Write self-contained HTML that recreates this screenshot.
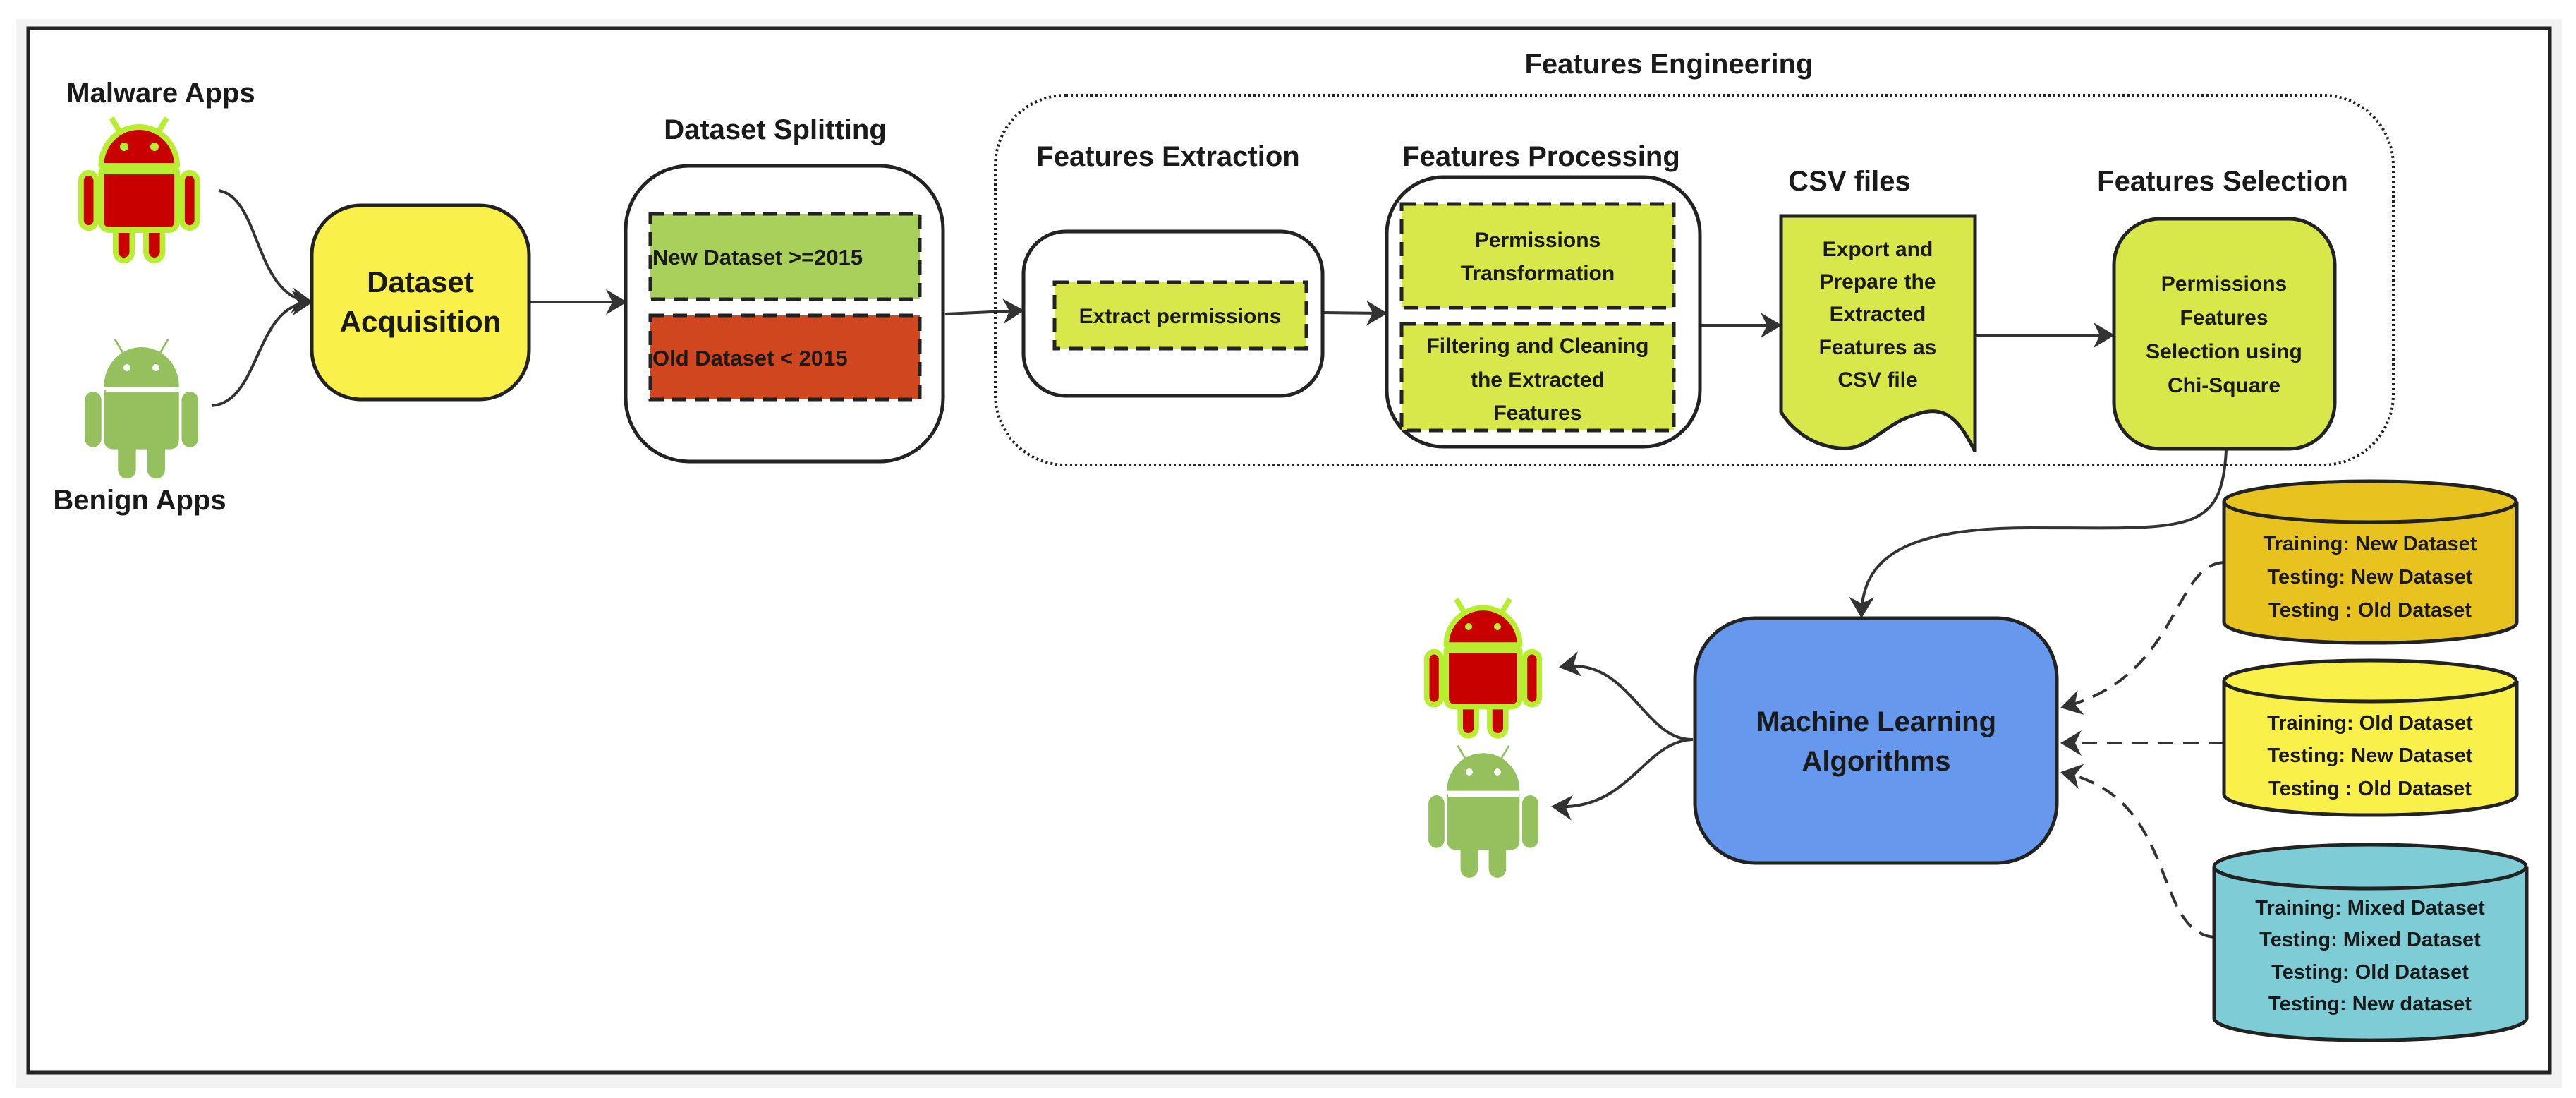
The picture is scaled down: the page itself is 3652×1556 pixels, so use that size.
<!DOCTYPE html>
<html><head><meta charset="utf-8"><style>
html,body{margin:0;padding:0;background:#fff;}
svg{display:block;}
text{font-family:"Liberation Sans",sans-serif;font-weight:bold;fill:#1a1a1a;text-anchor:middle;}
</style></head><body>
<svg width="3652" height="1556" viewBox="0 0 3652 1556" xmlns="http://www.w3.org/2000/svg">
<defs>
<marker id="ah" viewBox="0 0 30 36" refX="26" refY="18" markerWidth="30" markerHeight="36" markerUnits="userSpaceOnUse" orient="auto" overflow="visible">
<path d="M0,0 L30,18 L0,36 L9,18 Z" fill="#333"/>
</marker>
<g id="droid">
<line x1="62" y1="24" x2="50" y2="4"/><line x1="118" y1="24" x2="130" y2="4"/>
<rect x="56" y="140" width="24" height="66" rx="12"/>
<rect x="100" y="140" width="24" height="66" rx="12"/>
<path d="M35,72 A55,55 0 0 1 145,72 Z"/>
<path d="M35,80 H145 V150 Q145,163 132,163 H48 Q35,163 35,150 Z"/>
<rect x="6" y="82" width="22" height="78" rx="11"/>
<rect x="152" y="82" width="22" height="78" rx="11"/>
</g>
</defs>
<rect x="22" y="27" width="3610" height="1515" fill="#f2f2f2"/>
<rect x="40" y="40" width="3575" height="1480" fill="#fff" stroke="#222" stroke-width="5"/>

<!-- androids -->
<g transform="translate(109,163) scale(0.98,1.0)" fill="#c80000" stroke="#b8ee30" stroke-width="8" stroke-linejoin="round"><use href="#droid"/></g>
<g fill="#b8ee30"><circle cx="176" cy="208" r="6"/><circle cx="219" cy="208" r="6"/></g>
<g transform="translate(116,477) scale(0.94,0.97)" fill="#95c05e" stroke="#95c05e" stroke-width="3"><use href="#droid"/></g>
<line x1="150" y1="553" x2="254" y2="553" stroke="#fff" stroke-width="4"/>
<g fill="#fff"><circle cx="180" cy="521" r="5"/><circle cx="221" cy="521" r="5"/></g>
<g transform="translate(2017,845) scale(0.95,0.96)" fill="#c80000" stroke="#b8ee30" stroke-width="8" stroke-linejoin="round"><use href="#droid"/></g>
<g fill="#b8ee30"><circle cx="2082" cy="888" r="5"/><circle cx="2123" cy="888" r="5"/></g>
<g transform="translate(2021,1053) scale(0.91,0.92)" fill="#95c05e" stroke="#95c05e" stroke-width="3"><use href="#droid"/></g>
<line x1="2053" y1="1127" x2="2153" y2="1127" stroke="#fff" stroke-width="4"/>
<g fill="#fff"><circle cx="2083" cy="1094" r="5"/><circle cx="2123" cy="1094" r="5"/></g>

<text x="228" y="145" font-size="40">Malware Apps</text>
<text x="198" y="722" font-size="40">Benign Apps</text>

<!-- connectors -->
<g fill="none" stroke="#333" stroke-width="4">
<path d="M310,270 C370,280 360,420 440,428" marker-end="url(#ah)"/>
<path d="M300,575 C370,570 360,432 440,428" marker-end="url(#ah)"/>
<path d="M752,428 H885" marker-end="url(#ah)"/>
<path d="M1340,445 L1448,440" marker-end="url(#ah)"/>
<path d="M1877,443 L1963,444" marker-end="url(#ah)"/>
<path d="M2412,461 L2522,461" marker-end="url(#ah)"/>
<path d="M2802,475 L2994,475" marker-end="url(#ah)"/>
<path d="M3156,638 C3150,760 3100,748 2880,748 C2700,748 2640,790 2639,872" marker-end="url(#ah)"/>
<path d="M2400,1048 C2330,1050 2310,930 2214,945" marker-end="url(#ah)"/>
<path d="M2400,1048 C2330,1050 2310,1150 2203,1143" marker-end="url(#ah)"/>
<g stroke-dasharray="22,14">
<path d="M3153,797 C3080,800 3090,960 2925,1002" marker-end="url(#ah)"/>
<path d="M3153,1053 H2925" marker-end="url(#ah)"/>
<path d="M3139,1328 C3050,1320 3090,1130 2925,1095" marker-end="url(#ah)"/>
</g>
</g>

<!-- Dataset acquisition -->
<rect x="442" y="291" width="308" height="275" rx="70" fill="#f9f04a" stroke="#222" stroke-width="5"/>
<text x="596" y="414" font-size="42">Dataset</text>
<text x="596" y="470" font-size="42">Acquisition</text>

<!-- Dataset splitting -->
<text x="1099" y="197" font-size="40">Dataset Splitting</text>
<rect x="887" y="235" width="450" height="419" rx="90" fill="#fff" stroke="#222" stroke-width="5"/>
<rect x="922" y="303" width="382" height="121" fill="#a8d05a" stroke="#222" stroke-width="5" stroke-dasharray="20,12"/>
<text x="925" y="375" font-size="31" style="text-anchor:start">New Dataset &gt;=2015</text>
<rect x="922" y="447" width="382" height="119" fill="#d0461e" stroke="#222" stroke-width="5" stroke-dasharray="20,12"/>
<text x="925" y="518" font-size="31" style="text-anchor:start">Old Dataset &lt; 2015</text>

<!-- Features Engineering -->
<text x="2366" y="104" font-size="40">Features Engineering</text>
<rect x="1411" y="135" width="1982" height="524" rx="100" fill="none" stroke="#222" stroke-width="4" stroke-dasharray="3,4"/>

<text x="1656" y="235" font-size="40">Features Extraction</text>
<rect x="1451" y="328" width="424" height="233" rx="60" fill="#fff" stroke="#222" stroke-width="5"/>
<rect x="1495" y="400" width="357" height="94" fill="#d8e84b" stroke="#222" stroke-width="5" stroke-dasharray="20,12"/>
<text x="1673" y="458" font-size="30">Extract permissions</text>

<text x="2185" y="235" font-size="40">Features Processing</text>
<rect x="1966" y="251" width="444" height="382" rx="80" fill="#fff" stroke="#222" stroke-width="5"/>
<rect x="1987" y="289" width="386" height="147" fill="#d8e84b" stroke="#222" stroke-width="5" stroke-dasharray="20,12"/>
<text x="2180" y="350" font-size="30">Permissions</text>
<text x="2180" y="397" font-size="30">Transformation</text>
<rect x="1987" y="459" width="386" height="151" fill="#d8e84b" stroke="#222" stroke-width="5" stroke-dasharray="20,12"/>
<text x="2180" y="500" font-size="30">Filtering and Cleaning</text>
<text x="2180" y="548" font-size="30">the Extracted</text>
<text x="2180" y="595" font-size="30">Features</text>

<text x="2622" y="270" font-size="40">CSV files</text>
<path d="M2525,306 H2800 V640 C2780,600 2760,570 2715,588 C2670,600 2650,640 2607,635 C2560,630 2535,600 2525,584 Z" fill="#d8e84b" stroke="#222" stroke-width="5"/>
<text x="2662" y="363" font-size="30">Export and</text>
<text x="2662" y="409" font-size="30">Prepare the</text>
<text x="2662" y="455" font-size="30">Extracted</text>
<text x="2662" y="502" font-size="30">Features as</text>
<text x="2662" y="548" font-size="30">CSV file</text>

<text x="3151" y="270" font-size="40">Features Selection</text>
<rect x="2997" y="310" width="313" height="326" rx="65" fill="#d8e84b" stroke="#222" stroke-width="5"/>
<text x="3153" y="412" font-size="30">Permissions</text>
<text x="3153" y="460" font-size="30">Features</text>
<text x="3153" y="508" font-size="30">Selection using</text>
<text x="3153" y="556" font-size="30">Chi-Square</text>

<!-- ML -->
<rect x="2403" y="876" width="513" height="347" rx="85" fill="#6699ee" stroke="#222" stroke-width="5"/>
<text x="2660" y="1036" font-size="40">Machine Learning</text>
<text x="2660" y="1092" font-size="40">Algorithms</text>

<!-- cylinders -->
<g stroke="#222" stroke-width="5">
<path d="M3153,711 V882 A207,29 0 0 0 3568,882 V711" fill="#e8c21e"/>
<ellipse cx="3360" cy="711" rx="207" ry="29" fill="#e8c21e"/>
<path d="M3153,965 V1126 A207,29 0 0 0 3568,1126 V965" fill="#f9f04a"/>
<ellipse cx="3360" cy="965" rx="207" ry="29" fill="#f9f04a"/>
<path d="M3139,1228 V1443 A221,31 0 0 0 3582,1443 V1228" fill="#7ecdd6"/>
<ellipse cx="3360" cy="1228" rx="221" ry="31" fill="#7ecdd6"/>
</g>
<g font-size="29">
<text x="3360" y="780">Training: New Dataset</text>
<text x="3360" y="827">Testing: New Dataset</text>
<text x="3360" y="874">Testing : Old Dataset</text>
<text x="3360" y="1034">Training: Old Dataset</text>
<text x="3360" y="1080">Testing: New Dataset</text>
<text x="3360" y="1127">Testing : Old Dataset</text>
<text x="3360" y="1296">Training: Mixed  Dataset</text>
<text x="3360" y="1341">Testing: Mixed Dataset</text>
<text x="3360" y="1387">Testing: Old Dataset</text>
<text x="3360" y="1432">Testing: New dataset</text>
</g>
</svg>
</body></html>
